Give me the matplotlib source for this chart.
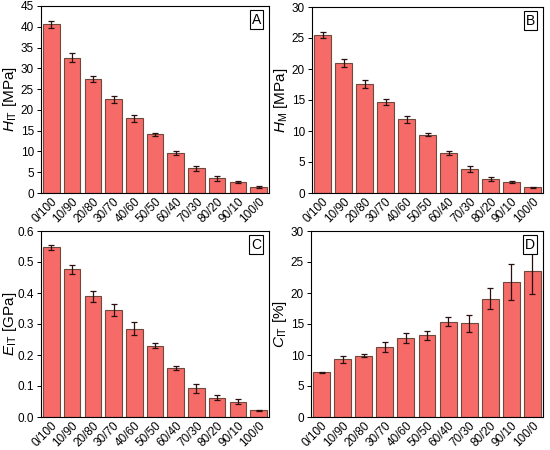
import matplotlib
matplotlib.use("Agg")
import matplotlib.pyplot as plt
import numpy as np

plt.rcParams['font.family'] = ['Liberation Sans', 'DejaVu Sans']
plt.rcParams['mathtext.fontset'] = 'custom'
plt.rcParams['mathtext.it'] = 'Liberation Sans:italic'
plt.rcParams['mathtext.rm'] = 'Liberation Sans'

cats = ["0/100", "10/90", "20/80", "30/70", "40/60", "50/50",
        "60/40", "70/30", "80/20", "90/10", "100/0"]

h_it = [40.6, 32.6, 27.5, 22.5, 18.0, 14.1, 9.6, 5.9, 3.5, 2.6, 1.4]
h_it_err = [0.9, 1.0, 0.7, 0.8, 0.8, 0.3, 0.5, 0.7, 0.5, 0.2, 0.2]

h_m = [25.5, 21.0, 17.6, 14.7, 11.9, 9.4, 6.4, 3.9, 2.3, 1.8, 0.9]
h_m_err = [0.5, 0.6, 0.6, 0.5, 0.6, 0.2, 0.3, 0.5, 0.3, 0.15, 0.1]

e_it = [0.548, 0.476, 0.390, 0.345, 0.285, 0.230, 0.158, 0.092, 0.062, 0.050, 0.021]
e_it_err = [0.008, 0.015, 0.018, 0.018, 0.020, 0.008, 0.007, 0.016, 0.008, 0.008, 0.002]

c_it = [7.2, 9.3, 9.9, 11.3, 12.8, 13.2, 15.4, 15.1, 19.1, 21.7, 23.6]
c_it_err = [0.1, 0.6, 0.3, 0.8, 0.8, 0.7, 0.8, 1.4, 1.7, 2.9, 3.7]

W, H = 550, 450
fig = plt.figure(figsize=(5.5, 4.5), dpi=100)

def panel(px, data, err, ylim, yticks, ylabel, letter, fmt):
    l, t, r, b = px
    ax = fig.add_axes([l / W, 1 - b / H, (r - l) / W, (b - t) / H])
    x = np.arange(len(cats))
    ax.bar(x, data, width=0.8, color='#f66a67', edgecolor='#6e4a3e', linewidth=0.8,
           yerr=err, capsize=2, error_kw=dict(ecolor='#2a1010', elinewidth=0.9, capthick=0.9))
    ax.set_xlim(-0.5, len(cats) - 0.5)
    ax.set_ylim(*ylim)
    ax.set_yticks(yticks)
    ax.set_yticklabels([fmt.format(v) for v in yticks])
    ax.set_xticks(x)
    ax.set_xticklabels(cats, rotation=45, ha='right', rotation_mode='anchor')
    ax.tick_params(axis='both', labelsize=8.5, direction='out', length=3, width=0.7, pad=2)
    ax.tick_params(axis='x', length=0)
    ax.set_ylabel(ylabel, fontsize=11)
    # put the label right edge ~22 px left of the axes
    ax.yaxis.set_label_coords(-22.0 / (r - l), 0.5)
    for s in ax.spines.values():
        s.set_linewidth(0.8)
    ax.text(0.965, 0.965, letter, transform=ax.transAxes, ha='right', va='top', fontsize=10,
            bbox=dict(boxstyle='square,pad=0.15', fc='white', ec='black', lw=0.8))
    return ax

panel((41, 6, 269, 193), h_it, h_it_err, (0, 45), np.arange(0, 46, 5),
      r'$H_{\mathrm{IT}}$ [MPa]', 'A', '{:g}')
panel((312, 7, 543, 193), h_m, h_m_err, (0, 30), np.arange(0, 31, 5),
      r'$H_{\mathrm{M}}$ [MPa]', 'B', '{:g}')
panel((41, 231, 269, 417), e_it, e_it_err, (0, 0.6), np.round(np.arange(0, 0.61, 0.1), 1),
      r'$E_{\mathrm{IT}}$ [GPa]', 'C', '{:.1f}')
panel((311, 231, 543, 417), c_it, c_it_err, (0, 30), np.arange(0, 31, 5),
      r'$C_{\mathrm{IT}}$ [%]', 'D', '{:g}')

fig.savefig('out.png', dpi=100)
